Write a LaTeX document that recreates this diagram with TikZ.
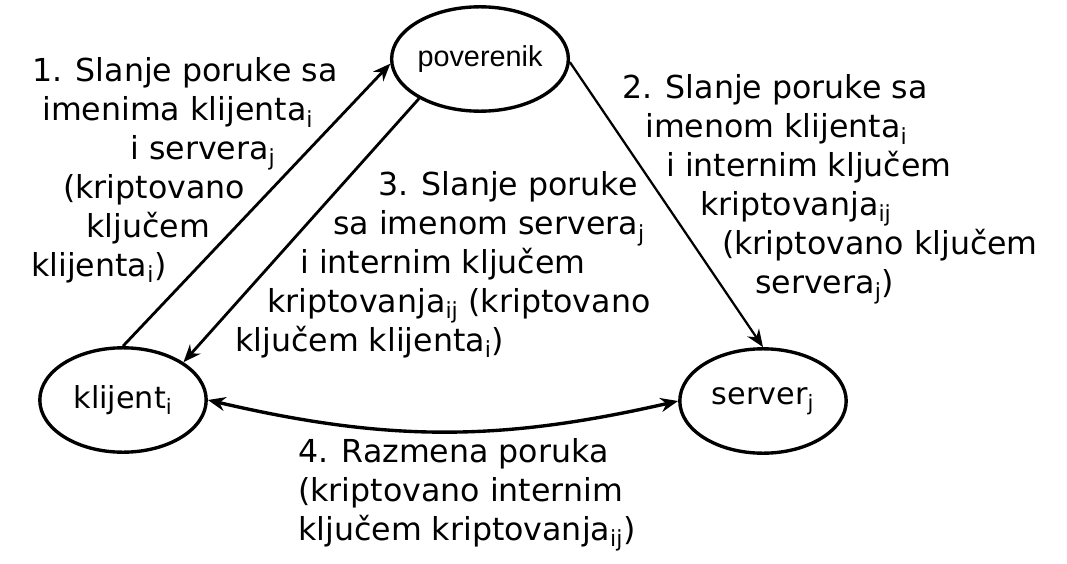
\documentclass[tikz,border=0pt]{standalone}
\usepackage{fontspec}
\setmainfont{DejaVu Sans}
\newfontfamily\povfont{Liberation Sans}
\usetikzlibrary{arrows.meta,shapes.geometric}
\tikzset{
  every picture/.style={line join=round, >={Stealth[length=12.5pt,width=10pt]}},
  actor/.style={ellipse, draw, line width=2.4pt, minimum width=4.16cm, minimum height=2.61cm, inner sep=0pt, font=\fontsize{21.5}{25}\selectfont},
  msg/.style={align=left, anchor=north west, inner sep=0pt, font=\fontsize{22.5}{27.7}\selectfont},
  flow/.style={->, line width=2pt},
}

\begin{document}
\begin{tikzpicture}
\useasboundingbox (0,0) rectangle (26.675,14.075);
\node[actor] (pov) at (12.000,12.600) {\povfont\fontsize{20.5}{24}\selectfont poverenik};
\node[actor] (kli) at (3.075,4.075) {klijent\textsubscript{i}};
\node[actor] (srv) at (19.075,4.050) {server\textsubscript{j}};
\draw[flow] (kli.north) -- (pov.183);
\draw[flow] (pov.213) -- (kli.32);
\draw[flow,line width=1.6pt] (pov.358) -- (srv.north);
\draw[<->,line width=2.4pt] (kli.east) to[bend right=13] (srv.west);
\node[msg] (m1) at (0.775,12.650) {\hspace*{0.025cm}1. Slanje poruke sa\\
\hspace*{0.275cm}imenima klijenta\textsubscript{i}\\
\hspace*{2.475cm}i servera\textsubscript{j}\\
\hspace*{0.800cm}(kriptovano\\
\hspace*{1.375cm}ključem\\
klijenta\textsubscript{i})};
\node[msg] (m2) at (15.550,12.225) {2. Slanje poruke sa\\
\hspace*{0.575cm}imenom klijenta\textsubscript{i}\\
\hspace*{1.100cm}i internim ključem\\
\hspace*{1.950cm}kriptovanja\textsubscript{ij}\\
\hspace*{2.500cm}(kriptovano ključem\\
\hspace*{3.325cm}servera\textsubscript{j})};
\node[msg] (m3) at (5.875,9.800) {\hspace*{3.575cm}3. Slanje poruke\\
\hspace*{2.450cm}sa imenom servera\textsubscript{j}\\
\hspace*{1.625cm}i internim ključem\\
\hspace*{0.800cm}kriptovanja\textsubscript{ij} (kriptovano\\
ključem klijenta\textsubscript{i})};
\node[msg] (m4) at (7.450,3.125) {4. Razmena poruka\\
(kriptovano internim\\
ključem kriptovanja\textsubscript{ij})};
\end{tikzpicture}
\end{document}
